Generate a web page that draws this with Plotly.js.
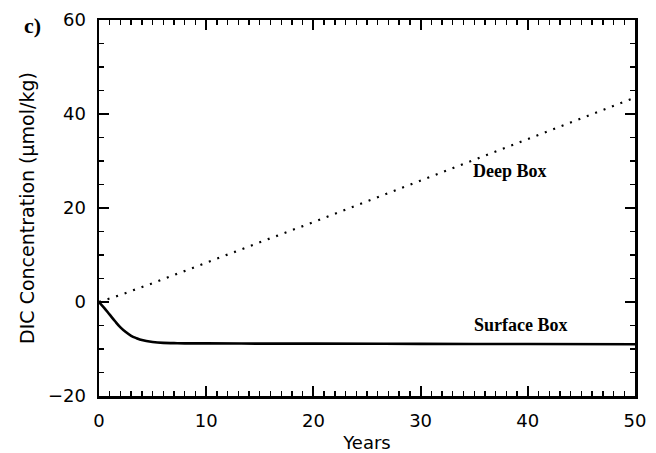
<!DOCTYPE html>
<html>
<head>
<meta charset="utf-8">
<script src="https://cdn.plot.ly/plotly-3.0.1.min.js"></script>
<style>html,body{margin:0;padding:0;background:#fff;}#chart{width:656px;height:453px;}</style>
</head>
<body>
<div id="chart"></div>
<script>
// Data
const surfaceYears = [0, 0.5, 1, 1.5, 2, 2.5, 3, 3.5, 4, 5, 6, 7, 8, 10, 15, 20, 30, 40, 50];
const surfaceDIC   = [0, -1.3, -2.7, -4.1, -5.4, -6.4, -7.2, -7.7, -8.1, -8.5, -8.7, -8.75, -8.8, -8.8, -8.85, -8.85, -8.9, -8.95, -9.0];
const deepYears = [0, 2, 5, 10, 15, 20, 25, 30, 35, 40, 45, 50];
const deepDIC   = [0, 1.5, 4.0, 8.4, 12.7, 17.0, 21.4, 25.8, 30.2, 34.6, 39.0, 43.5];
const labels = ["Deep Box", "Surface Box"];
const labelX = [38.3, 39.4];
const labelY = [27.8, -4.9];
const panelLabel = "c)";

const sans = "DejaVu Sans, Liberation Sans, Arial, sans-serif";
const serif = "Liberation Serif, Times New Roman, serif";

const traces = [
  {x: deepYears, y: deepDIC, mode: "lines", line: {color: "#000", width: 2.2, dash: "2px,7px"}, hoverinfo: "skip"},
  {x: surfaceYears, y: surfaceDIC, mode: "lines", line: {color: "#000", width: 2.6, shape: "spline"}, hoverinfo: "skip"}
];

const axisCommon = {
  showline: true, linecolor: "#000", linewidth: 2.5, mirror: "ticks",
  ticks: "inside", ticklen: 10, tickwidth: 1.8, tickcolor: "#000",
  showgrid: false, zeroline: false,
  tickfont: {family: sans, size: 18, color: "#000"}
};

const W = 656, H = 453, ML = 99, MR = 21, MT = 20, MB = 57;
const PW = W - ML - MR, PH = H - MT - MB;

const layout = {
  width: W, height: H,
  margin: {l: ML, r: MR, t: MT, b: MB},
  paper_bgcolor: "#fff", plot_bgcolor: "#fff",
  showlegend: false,
  xaxis: Object.assign({}, axisCommon, {
    range: [0, 50], tick0: 0, dtick: 10, ticklabelstandoff: 7,
    minor: {dtick: 1, ticks: "inside", ticklen: 5, tickwidth: 1.4, tickcolor: "#000", showgrid: false},
    title: {text: "Years", font: {family: sans, size: 18, color: "#000"}, standoff: 7}
  }),
  yaxis: Object.assign({}, axisCommon, {
    range: [-20, 60], tick0: -20, dtick: 20, ticklabelstandoff: 7,
    minor: {dtick: 5, ticks: "inside", ticklen: 5, tickwidth: 1.4, tickcolor: "#000", showgrid: false},
    title: {text: "DIC Concentration (μmol/kg)", font: {family: sans, size: 19, color: "#000"}, standoff: 9}
  }),
  annotations: [
    {x: labelX[0], y: labelY[0], xref: "x", yref: "y", text: "<b>" + labels[0] + "</b>", showarrow: false, font: {family: serif, size: 18, color: "#000"}},
    {x: labelX[1], y: labelY[1], xref: "x", yref: "y", text: "<b>" + labels[1] + "</b>", showarrow: false, font: {family: serif, size: 18, color: "#000"}},
    {x: (22 - ML) / PW, y: 1 - (25 - MT) / PH, xref: "paper", yref: "paper", xanchor: "left", yanchor: "middle",
     text: "<b>" + panelLabel + "</b>", showarrow: false, font: {family: serif, size: 22, color: "#000"}}
  ]
};

Plotly.newPlot("chart", traces, layout, {staticPlot: true, displayModeBar: false});
</script>
</body>
</html>
